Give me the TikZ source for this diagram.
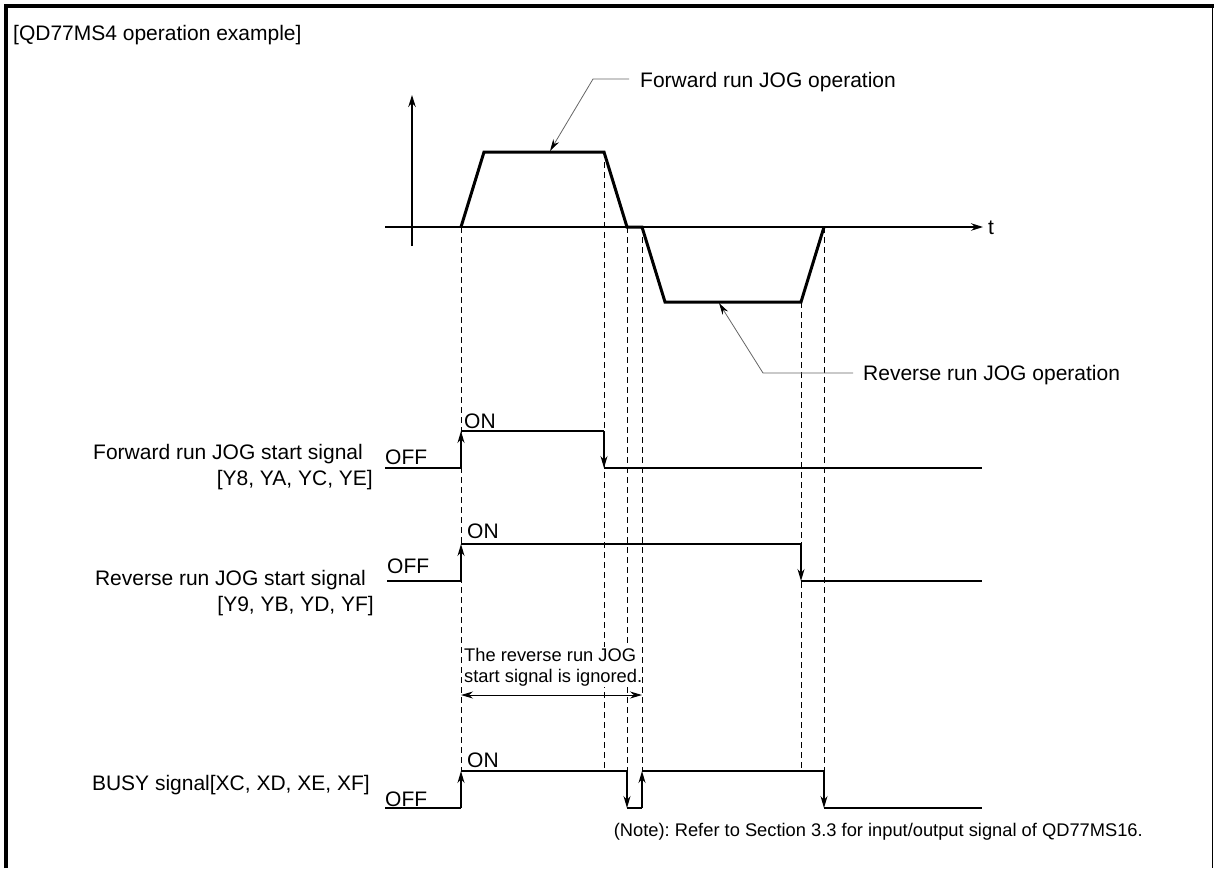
\documentclass[tikz,border=0pt]{standalone}
\usepackage{fontspec}
\setmainfont{Liberation Sans}
\usetikzlibrary{arrows.meta}
\frenchspacing
\begin{document}
\begin{tikzpicture}[x=1pt,y=-1pt,
  lbl/.style={inner sep=0pt, font=\fontsize{21}{25}\selectfont},
  small/.style={inner sep=0pt, font=\fontsize{18.3}{21}\selectfont},
  sig/.style={line width=1.3pt},
  sigthick/.style={line width=2.6pt},
  wave/.style={line width=3pt, line join=miter},
  dsh/.style={line width=1pt, dash pattern=on 6pt off 4pt},
  edge/.style={line width=1.3pt, -{Stealth[length=12pt,width=7pt]}},
  lead/.style={draw=black!60, line width=0.8pt, -{Stealth[length=12pt,width=6.5pt,black]}},
  axis/.style={line width=1.2pt, -{Stealth[length=12pt,width=7.5pt]}},
]
\useasboundingbox (0,0) rectangle (1214,868);
% frame
\draw[line width=4pt] (6,868) -- (6,5.6) -- (1214,5.6);
\draw[line width=1.5pt] (1212.3,5.6) -- (1212.3,868);

% key coordinates
\coordinate (a0) at (461,227);
\coordinate (a1) at (484,152);
\coordinate (a2) at (604,152);
\coordinate (a3) at (627,227);
\coordinate (a4) at (642,227);
\coordinate (a5) at (665,302);
\coordinate (a6) at (801,302);
\coordinate (a7) at (824,227);

% dashed guide lines
\draw[dsh] (a0) -- (461,771);
\draw[dsh] (a2) -- (604,771);
\draw[dsh] (a3) -- (627,771);
\draw[dsh] (a6) -- (801,771);
\draw[dsh] (a7) -- (824,771);

% ignored text (white background)
\node[small, inner sep=1pt, fill=white, anchor=north west, align=left] (ign) at (463,647)
  {The reverse run JOG\\start signal is ignored.};
\draw[dsh] (a4) -- (642,771);

% axes
\coordinate (vb) at (412,246);
\coordinate (vt) at (412,95);
\coordinate (hb) at (385,227);
\coordinate (ht) at (983,227);
\draw[axis] (vb) -- (vt);
\draw[axis] (hb) -- (ht);
\node[lbl, anchor=base west] (tlabel) at (988,234) {t};

% waveform
\draw[wave] (a0) -- (a1) -- (a2) -- (a3) -- (a4) -- (a5) -- (a6) -- (a7);

% leaders
\node[lbl, anchor=base west] (fwdop) at (640,87.5) {Forward run JOG operation};
\node[lbl, anchor=base west] (revop) at (863,380.5) {Reverse run JOG operation};
\coordinate (f1) at (629,79);
\coordinate (f2) at (593,79);
\coordinate (f3) at (550,151);
\draw[lead] (f1) -- (f2) -- (f3);
\coordinate (r1) at (853,373);
\coordinate (r2) at (763,373);
\coordinate (r3) at (719,303);
\draw[lead] (r1) -- (r2) -- (r3);

% title and note
\node[lbl, anchor=base west] (title) at (13,40) {[QD77MS4 operation example]};
\node[small, anchor=base east] (note) at (1143,836.5) {(Note): Refer to Section 3.3 for input/output signal of QD77MS16.};

% Forward run JOG start signal
\node[lbl, anchor=base east] (fname) at (363,459) {Forward run JOG start signal};
\node[lbl, anchor=base east] (fcode) at (373,485) {[Y8, YA, YC, YE]};
\node[lbl, anchor=base west] (foff) at (385,464) {OFF};
\node[lbl, anchor=base west] (fon) at (464,428) {ON};
\coordinate (fs0) at (385,468);
\coordinate (fs1) at (461,468);
\coordinate (fs2) at (461,431);
\coordinate (fs3) at (604,431);
\coordinate (fs4) at (604,468);
\coordinate (fs5) at (982,468);
\draw[sig] (fs0) -- (fs1);
\draw[edge] (fs1) -- (fs2);
\draw[sig] (fs2) -- (fs3);
\draw[edge] (fs3) -- (fs4);
\draw[sigthick] (fs4) -- (fs5);

% Reverse run JOG start signal
\node[lbl, anchor=base east] (rname) at (366,585.5) {Reverse run JOG start signal};
\node[lbl, anchor=base east] (rcode) at (374,611.5) {[Y9, YB, YD, YF]};
\node[lbl, anchor=base west] (roff) at (387,573) {OFF};
\node[lbl, anchor=base west] (ron) at (467,538) {ON};
\coordinate (rs0) at (387,581);
\coordinate (rs1) at (461,581);
\coordinate (rs2) at (461,544);
\coordinate (rs3) at (801,544);
\coordinate (rs4) at (801,581);
\coordinate (rs5) at (982,581);
\draw[sig] (rs0) -- (rs1);
\draw[edge] (rs1) -- (rs2);
\draw[sig] (rs2) -- (rs3);
\draw[edge] (rs3) -- (rs4);
\draw[sigthick] (rs4) -- (rs5);

% ignored interval
\coordinate (g0) at (461,695);
\coordinate (g1) at (642,695);
\draw[line width=1pt, {Stealth[length=12pt,width=7pt]}-{Stealth[length=12pt,width=7pt]}] (g0) -- (g1);

% BUSY signal
\node[lbl, anchor=base east] (bname) at (370,790) {BUSY signal[XC, XD, XE, XF]};
\node[lbl, anchor=base west] (boff) at (385,806) {OFF};
\node[lbl, anchor=base west] (bon) at (467,767) {ON};
\coordinate (bs0) at (385,808);
\coordinate (bs1) at (461,808);
\coordinate (bs2) at (461,771);
\coordinate (bs3) at (627,771);
\coordinate (bs4) at (627,808);
\coordinate (bs5) at (642,808);
\coordinate (bs6) at (642,771);
\coordinate (bs7) at (824,771);
\coordinate (bs8) at (824,808);
\coordinate (bs9) at (982,808);
\draw[sig] (bs0) -- (bs1);
\draw[edge] (bs1) -- (bs2);
\draw[sig] (bs2) -- (bs3);
\draw[edge] (bs3) -- (bs4);
\draw[sig] (bs4) -- (bs5);
\draw[edge] (bs5) -- (bs6);
\draw[sig] (bs6) -- (bs7);
\draw[edge] (bs7) -- (bs8);
\draw[sigthick] (bs8) -- (bs9);
\end{tikzpicture}
\end{document}
